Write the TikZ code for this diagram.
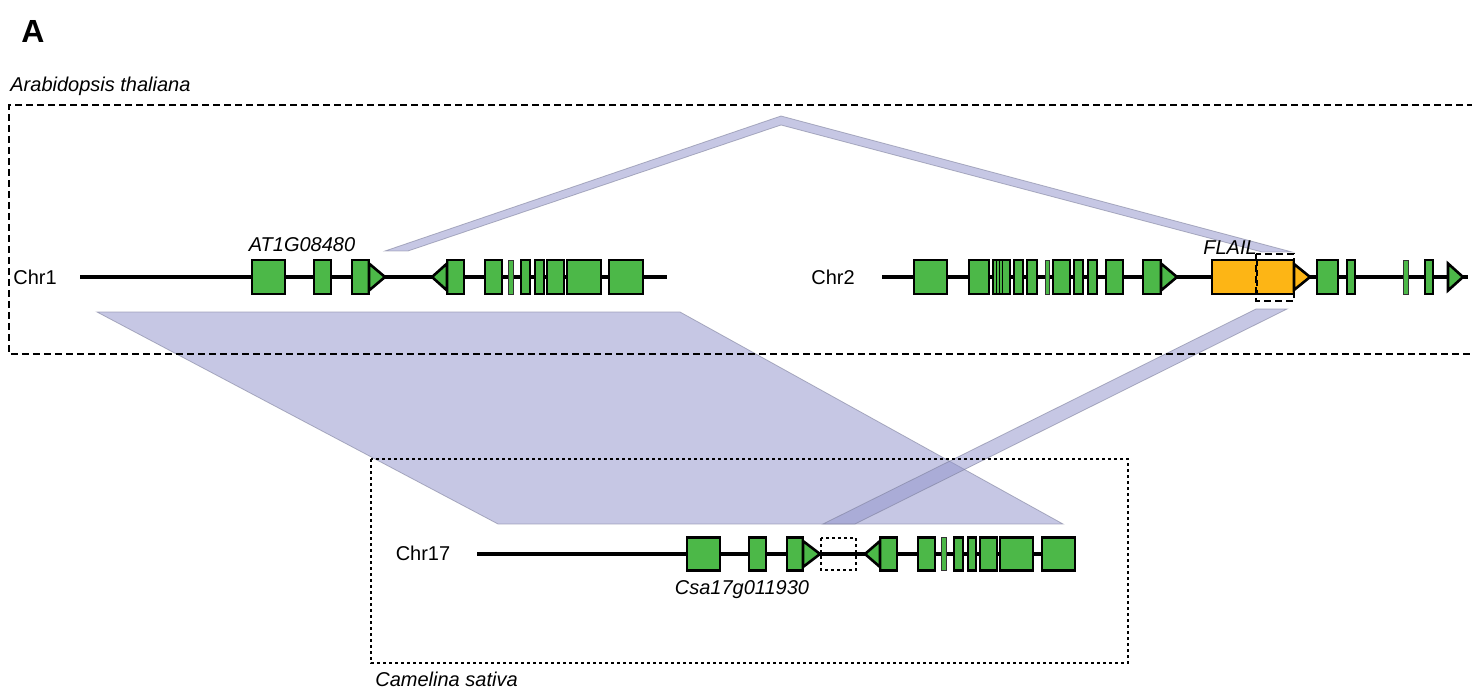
\documentclass[tikz,border=0pt]{standalone}
\usepackage{fontspec}
\setmainfont{Liberation Sans}
\definecolor{exongreen}{RGB}{76,184,72}
\definecolor{flailorange}{RGB}{253,181,21}
\definecolor{synteny}{RGB}{145,148,203}
\definecolor{syntenyedge}{RGB}{120,122,150}
\begin{document}
\begin{tikzpicture}[x=0.5pt,y=-0.5pt,
  chrom/.style={line width=2.2pt},
  exon/.style={draw=black,line width=1.3pt,fill=exongreen,line join=miter},
  thinexon/.style={draw=black!80,line width=0.35pt,fill=exongreen},
  flailexon/.style={fill=flailorange},
  ribbon/.style={fill=synteny,fill opacity=0.52,draw=syntenyedge,draw opacity=0.55,line width=0.4pt},
  speciesbox/.style={line width=1.4pt,dash pattern=on 3.5pt off 2pt},
  dotbox/.style={line width=1.3pt,dash pattern=on 1.3pt off 1.7pt},
  lbl/.style={font=\fontsize{10}{12}\selectfont,inner sep=0pt},
  gene/.style={lbl,font=\fontsize{10}{12}\selectfont\itshape}]
\useasboundingbox (0,0) rectangle (1472,689);

% panel letter
\node[font=\fontsize{16}{18}\selectfont\bfseries,inner sep=0pt] (panel) at (33,31) {A};

% synteny ribbons
\draw[ribbon] (97,312) -- (680,312) -- (1063,524) -- (498,524) -- cycle;
\draw[ribbon] (385,251) -- (781,116) -- (1292,252) -- (1262,252) -- (781,125) -- (408,251) -- cycle;
\draw[ribbon] (1256,309) -- (1287,309) -- (855,524) -- (823,524) -- cycle;

% species frames
\node[gene,anchor=base west] (ath) at (10,92) {Arabidopsis thaliana};
\draw[speciesbox] (1474,105) -- (9,105) -- (9,354) -- (1474,354);
\draw[dotbox] (371,459) rectangle (1128,663);
\node[gene,anchor=base west] (csa) at (375,686) {Camelina sativa};

% ---------------- Chr1 ----------------
\node[lbl,anchor=west] (chr1) at (13,277) {Chr1};
\coordinate (c1a) at (80,277);
\coordinate (c1b) at (667,277);
\draw[chrom] (c1a) -- (c1b);
\foreach \a/\b in {252/285,314/331,352/369,447/464,485/502,521/530,535/544,547/564,567/601,609/643}
  \draw[exon] (\a,260) rectangle (\b,294);
\draw[thinexon] (508,260) rectangle (513,294);
\draw[exon] (369,263.5) -- (385,277) -- (369,290.5) -- cycle;
\draw[exon] (447,263.5) -- (432,277) -- (447,290.5) -- cycle;
\node[gene] (at1g) at (302,245) {AT1G08480};

% ---------------- Chr2 ----------------
\node[lbl] (chr2) at (833,277) {Chr2};
\coordinate (c2a) at (882,277);
\coordinate (c2b) at (1468,277);
\draw[chrom] (c2a) -- (c2b);
\foreach \a/\b in {914/947,969/989,1014/1023,1027/1037,1053/1070,1074/1083,1088/1097,1106/1123,1143/1161,1317/1338,1347/1355,1425/1433}
  \draw[exon] (\a,260) rectangle (\b,294);
\draw[exon] (993,260) rectangle (1010,294);
\foreach \x in {996.5,999.5,1002.5}
  \draw[line width=0.5pt] (\x,260) -- (\x,294);
\foreach \a/\b in {1045/1049,1403/1408}
  \draw[thinexon] (\a,260) rectangle (\b,294);
\draw[exon] (1161,263.5) -- (1177,277) -- (1161,290.5) -- cycle;
\draw[exon] (1448,263.5) -- (1463,277) -- (1448,290.5) -- cycle;
% FLAIL
\fill[flailexon] (1212,260) rectangle (1294,294);
\draw[line width=1.3pt] (1294,260) -- (1212,260) -- (1212,294) -- (1294,294);
\draw[exon,fill=flailorange] (1294,264) -- (1310,277) -- (1294,290) -- cycle;
\draw[line width=1.1pt,dash pattern=on 3pt off 2pt] (1257,260) -- (1257,294);
\draw[speciesbox,line width=1.2pt] (1256,254) rectangle (1294,301);
\node[gene,anchor=base] (flail) at (1230,255) {FLAIL};

% ---------------- Chr17 ----------------
\node[lbl] (chr17) at (423,553) {Chr17};
\coordinate (c17a) at (477,554);
\coordinate (c17b) at (1075,554);
\draw[chrom] (c17a) -- (c17b);
\foreach \a/\b in {687/720,749/766,787/803,880/897,918/935,954/963,968/976,980/997,1000/1033,1042/1075}
  \draw[exon] (\a,537.5) rectangle (\b,570.5);
\draw[thinexon] (941,537.5) rectangle (946,570.5);
\draw[exon] (803,541) -- (820,554) -- (803,567) -- cycle;
\draw[exon] (880,541) -- (865,554) -- (880,567) -- cycle;
\draw[dotbox] (821,538) rectangle (856,570);
\node[gene] (csa17) at (742,590) {Csa17g011930};
\end{tikzpicture}
\end{document}
